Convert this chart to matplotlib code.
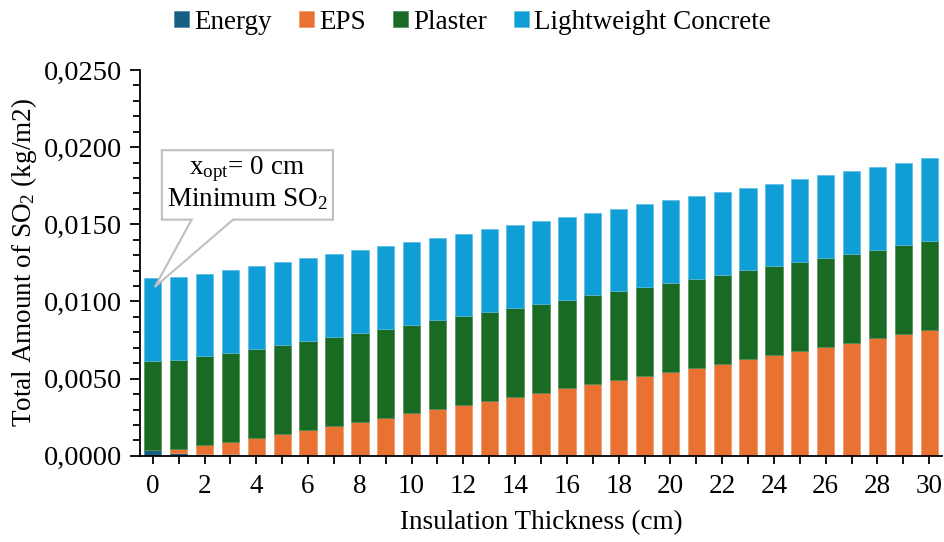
import matplotlib
matplotlib.use("Agg")
import matplotlib.pyplot as plt
from matplotlib.ticker import MultipleLocator, FuncFormatter
from matplotlib.patches import Polygon
import numpy as np

plt.rcParams['font.family'] = ['Liberation Serif', 'DejaVu Serif']
plt.rcParams['mathtext.fontset'] = 'custom'
plt.rcParams['mathtext.rm'] = 'Liberation Serif'
plt.rcParams['mathtext.it'] = 'Liberation Serif:italic'
plt.rcParams['mathtext.bf'] = 'Liberation Serif:bold'

thickness = list(range(0, 31))
energy = [0.00038, 0.00020, 0.00014, 0.00010, 0.000083, 0.000069, 0.000059, 0.000052,
          0.000046, 0.000041, 0.000037, 0.000034, 0.000031, 0.000029, 0.000027, 0.000025,
          0.000024, 0.000022, 0.000021, 0.000020, 0.000019, 0.000018, 0.000017, 0.000017,
          0.000016, 0.000015, 0.000015, 0.000014, 0.000014, 0.000013, 0.000013]
eps = [0.0, 0.00027, 0.00054, 0.00081, 0.00108, 0.00136, 0.00163, 0.00190, 0.00217,
       0.00244, 0.00271, 0.00298, 0.00325, 0.00352, 0.00379, 0.00407, 0.00434, 0.00461,
       0.00488, 0.00515, 0.00542, 0.00569, 0.00596, 0.00623, 0.00650, 0.00678, 0.00705,
       0.00732, 0.00759, 0.00786, 0.00813]
plaster = [0.00576] * 31
concrete = [0.00536] * 31

series_names = ["Energy", "EPS", "Plaster", "Lightweight Concrete"]
colors = ["#156082", "#E97132", "#196B24", "#0F9ED5"]
edges = ["#4F86A3", "#EE9A6C", "#4F8C57", "#5CBBE2"]

FS = 19.5

fig = plt.figure(figsize=(9.45, 5.42), dpi=100)
ax = fig.add_axes([0.148, 0.159, 0.849, 0.712])

x = np.array(thickness)
bottom = np.zeros(len(x))
handles = []
for name, vals, c, ec in zip(series_names, [energy, eps, plaster, concrete], colors, edges):
    v = np.array(vals)
    b = ax.bar(x, v, width=0.67, bottom=bottom, color=c, edgecolor=ec, linewidth=0.5, label=name)
    handles.append(b)
    bottom = bottom + v

ax.set_xlim(-0.5, 30.5)
ax.set_ylim(0, 0.025)
ax.yaxis.set_major_locator(MultipleLocator(0.005))
ax.yaxis.set_minor_locator(MultipleLocator(0.001))
ax.yaxis.set_major_formatter(FuncFormatter(lambda v, p: f"{v:.4f}".replace('.', ',')))
ax.xaxis.set_major_locator(MultipleLocator(2))
ax.xaxis.set_minor_locator(MultipleLocator(1))

for s in ["top", "right"]:
    ax.spines[s].set_visible(False)
for s in ["left", "bottom"]:
    ax.spines[s].set_linewidth(1.3)
    ax.spines[s].set_color("black")

ax.tick_params(axis='y', which='major', direction='out', length=7, width=1.3, labelsize=20.5, pad=6)
ax.tick_params(axis='y', which='minor', direction='out', length=5, width=1.3)
ax.tick_params(axis='x', which='major', direction='out', length=6, width=1.3, labelsize=FS, pad=7)
ax.tick_params(axis='x', which='minor', direction='out', length=6, width=1.3)

ax.set_xlabel("Insulation Thickness (cm)", fontsize=FS, labelpad=8)
ax.set_ylabel("Total Amount of SO$_2$ (kg/m2)", fontsize=FS, labelpad=3)

# callout
x0, x1 = 0.35, 6.96
y0, y1 = 0.0153, 0.0198
verts = [(x0, y0), (1.50, y0), (0.08, 0.01094), (3.10, y0), (x1, y0), (x1, y1), (x0, y1)]
poly = Polygon(verts, closed=True, facecolor="white", edgecolor="#BFBFBF", linewidth=1.5, zorder=5)
ax.add_patch(poly)
xc = (x0 + x1) / 2
ax.text(xc, 0.01860, "x$_{\\mathrm{opt}}$= 0 cm", ha="center", va="center", fontsize=FS, zorder=6)
ax.text(xc, 0.01660, "Minimum SO$_2$", ha="center", va="center", fontsize=FS, zorder=6)

fig.legend(handles=handles, labels=series_names, loc="upper center", bbox_to_anchor=(0.5, 1.027),
           ncol=4, frameon=False, fontsize=FS, handlelength=0.55, handleheight=0.55,
           handletextpad=0.2, columnspacing=1.0)

fig.savefig("out.png", dpi=100)
